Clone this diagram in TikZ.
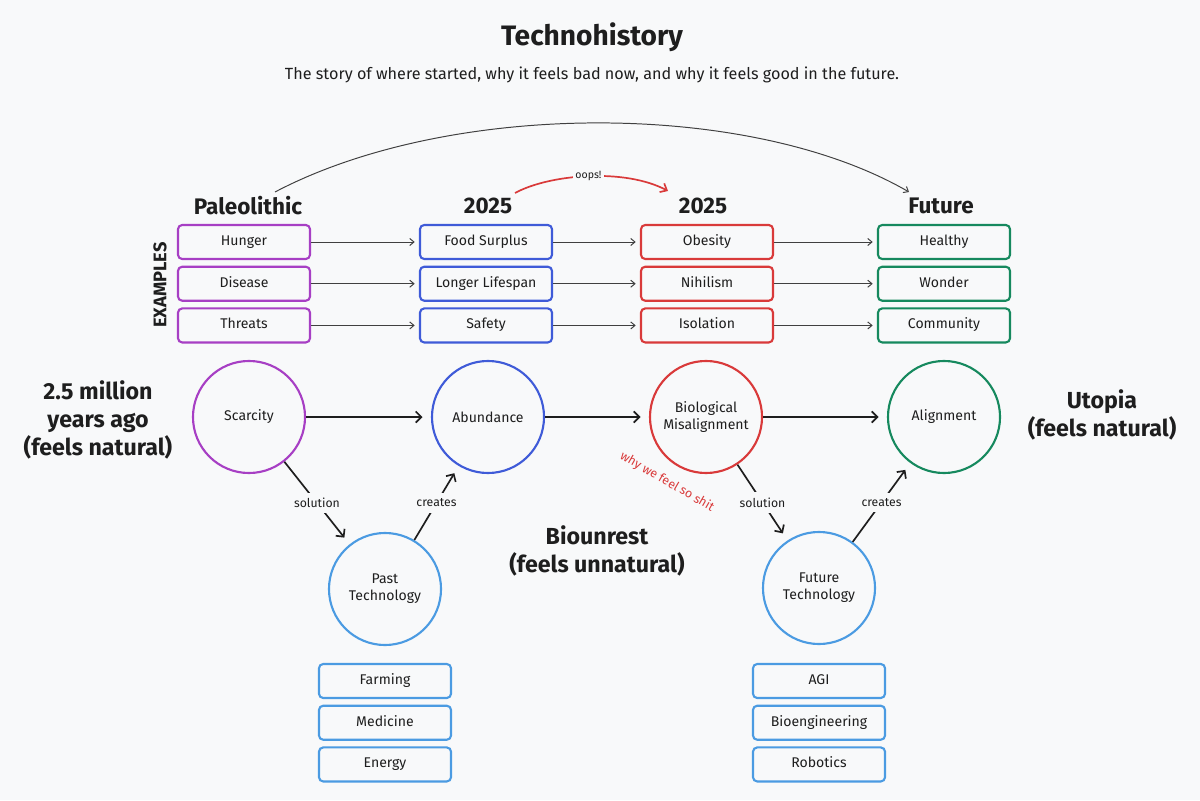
\documentclass[tikz,border=0pt]{standalone}
\usepackage{fontspec}
\setmainfont{Fira Sans}
\usetikzlibrary{positioning,arrows.meta}
\definecolor{bgc}{HTML}{F8F9FA}
\definecolor{ink}{HTML}{1E1E1E}
\definecolor{paleo}{HTML}{A73FC4}
\definecolor{nowblue}{HTML}{3F5BD8}
\definecolor{nowred}{HTML}{D93A3A}
\definecolor{futgreen}{HTML}{16895E}
\definecolor{techblue}{HTML}{4B9BE2}

\tikzset{
  exbox/.style={draw=#1, line width=1.5pt, rounded corners=3pt, minimum width=3.3cm, minimum height=0.85cm, text height=7.2pt, text depth=2.2pt, font=\fontsize{10}{12}\selectfont, text=ink},
  stage/.style={draw=#1, circle, line width=1.5pt, minimum size=2.8cm, inner sep=0pt, align=center, font=\fontsize{10}{12}\selectfont, text=ink},
  header/.style={font=\fontsize{16}{19}\selectfont\bfseries, text=ink},
  era/.style={align=center, font=\fontsize{16.5}{19.8}\selectfont\bfseries, text=ink},
  thinarr/.style={-{Straight Barb[length=3pt,width=5pt]}, line width=0.7pt, draw=ink!85, shorten >=3pt},
  flow/.style={-{Straight Barb[length=4pt,width=8pt]}, line width=1.2pt, draw=ink, shorten >=6pt},
  edgelbl/.style={fill=bgc, inner sep=4pt, font=\fontsize{8.7}{10}\selectfont, text=ink}
}

\begin{document}
\begin{tikzpicture}[x=0.025cm, y=-0.025cm]
\fill[bgc] (0,0) rectangle (1200,800);
\useasboundingbox (0,0) rectangle (1200,800);

\node[font=\fontsize{20}{24}\selectfont\bfseries, text=ink] (title) at (592,37) {Technohistory};
\node[font=\fontsize{11.5}{13}\selectfont, text=ink] (subtitle) at (592,75) {The story of where started, why it feels bad now, and why it feels good in the future.};

\node[header] (hpaleo) at (248,206) {Paleolithic};
\node[header] (hnow) at (488,206) {2025};
\node[header] (hnow2) at (703,206) {2025};
\node[header] (hfuture) at (941,206) {Future};
\node[rotate=90, font=\fontsize{13}{15}\selectfont\bfseries, text=ink] (exlbl) at (160,285) {EXAMPLES};

\node[exbox=paleo] (hunger) at (244,242) {Hunger};
\node[exbox=paleo, below=0.14cm of hunger] (disease) {Disease};
\node[exbox=paleo, below=0.14cm of disease] (threats) {Threats};
\node[exbox=nowblue] (surplus) at (486,242) {Food Surplus};
\node[exbox=nowblue, below=0.14cm of surplus] (lifespan) {Longer Lifespan};
\node[exbox=nowblue, below=0.14cm of lifespan] (safety) {Safety};
\node[exbox=nowred] (obesity) at (707,242) {Obesity};
\node[exbox=nowred, below=0.14cm of obesity] (nihilism) {Nihilism};
\node[exbox=nowred, below=0.14cm of nihilism] (isolation) {Isolation};
\node[exbox=futgreen] (healthy) at (944,242) {Healthy};
\node[exbox=futgreen, below=0.14cm of healthy] (wonder) {Wonder};
\node[exbox=futgreen, below=0.14cm of wonder] (community) {Community};

\draw[thinarr] (hunger) -- (surplus);
\draw[thinarr] (disease) -- (lifespan);
\draw[thinarr] (threats) -- (safety);
\draw[thinarr] (surplus) -- (obesity);
\draw[thinarr] (lifespan) -- (nihilism);
\draw[thinarr] (safety) -- (isolation);
\draw[thinarr] (obesity) -- (healthy);
\draw[thinarr] (nihilism) -- (wonder);
\draw[thinarr] (isolation) -- (community);

\coordinate (arcfrom) at (275,192);
\coordinate (arcto) at (909,192);
\draw[thinarr, shorten >=0pt] (arcfrom) .. controls (450,100) and (750,100) .. (arcto);
\coordinate (oopsfrom) at (515,193);
\coordinate (oopsto) at (668,191);
\draw[-{Straight Barb[length=4pt,width=7pt]}, line width=1.2pt, nowred] (oopsfrom) .. controls (550,174) and (625,168) .. node[fill=bgc, inner sep=2pt, font=\fontsize{7.5}{9}\selectfont, text=ink] (oopslbl) {oops!} (oopsto);

\node[stage=paleo] (scarcity) at (249,417) {Scarcity};
\node[stage=nowblue] (abundance) at (488,417) {Abundance};
\node[stage=nowred] (misalign) at (706,417) {Biological\\Misalignment};
\node[stage=futgreen] (alignment) at (944,417) {Alignment};
\node[stage=techblue] (pasttech) at (385,589) {Past\\Technology};
\node[stage=techblue] (futtech) at (819,588) {Future\\Technology};

\draw[flow] (scarcity) -- (abundance);
\draw[flow] (abundance) -- (misalign);
\draw[flow] (misalign) -- (alignment);
\draw[flow] (scarcity) -- node[edgelbl] {solution} (pasttech);
\draw[flow] (pasttech) -- node[edgelbl] {creates} (abundance);
\draw[flow] (misalign) -- node[edgelbl] {solution} (futtech);
\draw[flow] (futtech) -- node[edgelbl] {creates} (alignment);

\node[rotate=-30, font=\fontsize{8.8}{10}\selectfont, text=nowred] (whylbl) at (667,482) {why we feel so shit};

\node[era] (pastera) at (98,420) {2.5 million\\years ago\\(feels natural)};
\node[era] (utopia) at (1102,415) {Utopia\\(feels natural)};
\node[era] (biounrest) at (597,551) {Biounrest\\(feels unnatural)};

\node[exbox=techblue] (farming) at (385,681) {Farming};
\node[exbox=techblue, below=0.14cm of farming] (medicine) {Medicine};
\node[exbox=techblue, below=0.14cm of medicine] (energy) {Energy};
\node[exbox=techblue] (agi) at (819,681) {AGI};
\node[exbox=techblue, below=0.14cm of agi] (bioeng) {Bioengineering};
\node[exbox=techblue, below=0.14cm of bioeng] (robotics) {Robotics};
\end{tikzpicture}
\end{document}
